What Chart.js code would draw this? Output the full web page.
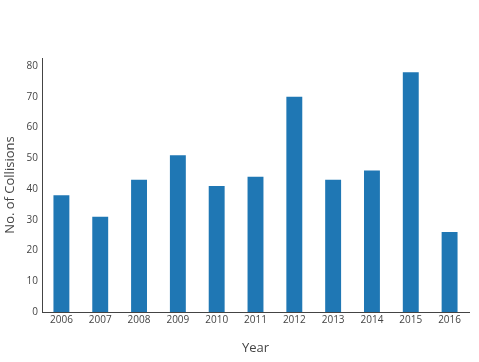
<!DOCTYPE html>
<html>
<head>
<meta charset="utf-8">
<script src="https://cdn.jsdelivr.net/npm/chart.js@4"></script>
<style>
  html, body { margin: 0; padding: 0; background: #fff; }
  #wrap { width: 479px; height: 362px; position: relative; }
</style>
</head>
<body>
<div id="wrap"><canvas id="myChart"></canvas></div>
<script>
const years = ['2006', '2007', '2008', '2009', '2010', '2011', '2012', '2013', '2014', '2015', '2016'];
const collisions = [38, 31, 43, 51, 41, 44, 70, 43, 46, 78, 26];
const yTicks = [0, 10, 20, 30, 40, 50, 60, 70, 80];

Chart.defaults.font.family = '"Open Sans", sans-serif';
Chart.defaults.color = '#444';

let ctx = document.getElementById('myChart').getContext('2d');
let myChart = new Chart(ctx, {
    type: 'bar',
    data: {
        labels: years,
        datasets: [{
            label: 'Collisions',
            data: collisions,
            backgroundColor: '#1f77b4',
            borderWidth: 0,
            barPercentage: 0.41,
            categoryPercentage: 1
        }]
    },
    options: {
        responsive: true,
        maintainAspectRatio: false,
        animation: false,
        layout: { padding: { top: 58, right: 10, left: 0, bottom: 0 } },
        plugins: {
            legend: { display: false },
            tooltip: { enabled: false }
        },
        scales: {
            x: {
                grid: { display: false, drawTicks: false },
                border: { display: true, color: '#444', width: 1 },
                ticks: { font: { size: 10 }, padding: 2, maxRotation: 0 },
                title: { display: true, text: 'Year', font: { size: 13 }, padding: { top: 12, bottom: 6 } },
                afterFit: function (scale) { scale.height = 50; }
            },
            y: {
                min: 0,
                max: 82.6,
                grid: { display: false, drawTicks: false },
                border: { display: true, color: '#444', width: 1 },
                ticks: { stepSize: 10, font: { size: 10 }, padding: 4 },
                afterBuildTicks: function (scale) {
                    scale.ticks = yTicks.map(v => ({ value: v }));
                },
                title: { display: true, text: 'No. of Collisions', font: { size: 13 }, padding: { top: 2, bottom: 4 } },
                afterFit: function (scale) { scale.width = 42; }
            }
        }
    }
});
</script>
</body>
</html>
